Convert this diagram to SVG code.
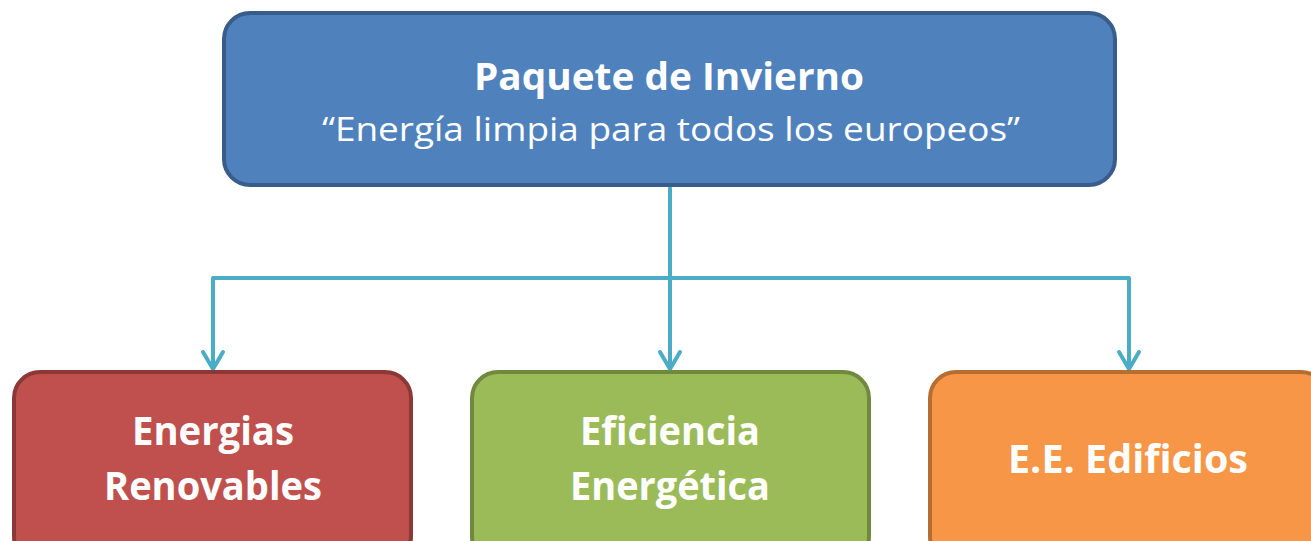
<svg xmlns="http://www.w3.org/2000/svg" width="1311" height="541" viewBox="0 0 1311 541">
<style>
.t{font-family:"Open Sans","Liberation Sans",sans-serif;fill:#fff;text-anchor:middle}
.b{font-weight:bold}
.c{fill:none;stroke:#4bacc6;stroke-width:4;stroke-linejoin:round;stroke-linecap:round}
</style>
<rect width="1311" height="541" fill="#fff"/>
<g id="connectors">
<line class="c" x1="670" y1="188" x2="670" y2="368"/>
<polyline class="c" points="213,368 213,278 1129,278 1129,368"/>
<path class="c" d="M203,352 L213,369 L223,352"/>
<path class="c" d="M660,352 L670,369 L680,352"/>
<path class="c" d="M1119,352 L1129,369 L1139,352"/>
</g>
<g id="top">
<rect x="224" y="13" width="891" height="172" rx="26" fill="#4f81bd" stroke="#385d8a" stroke-width="4"/>
<text class="t b" x="669" y="90" font-size="37" textLength="390" lengthAdjust="spacingAndGlyphs">Paquete de Invierno</text>
<text class="t" x="671" y="141" font-size="33" textLength="698" lengthAdjust="spacingAndGlyphs">“Energía limpia para todos los europeos”</text>
</g>
<g id="renovables">
<rect x="14" y="372" width="397" height="190" rx="26" fill="#c0504d" stroke="#8c3836" stroke-width="4"/>
<text class="t b" x="213" y="445" font-size="39" textLength="162" lengthAdjust="spacingAndGlyphs">Energias</text>
<text class="t b" x="213" y="500" font-size="39" textLength="218" lengthAdjust="spacingAndGlyphs">Renovables</text>
</g>
<g id="eficiencia">
<rect x="472" y="372" width="397" height="190" rx="26" fill="#9bbb59" stroke="#71893f" stroke-width="4"/>
<text class="t b" x="670" y="445" font-size="39" textLength="180" lengthAdjust="spacingAndGlyphs">Eficiencia</text>
<text class="t b" x="670" y="500" font-size="39" textLength="200" lengthAdjust="spacingAndGlyphs">Energética</text>
</g>
<g id="edificios">
<rect x="930" y="372" width="397" height="190" rx="26" fill="#f79646" stroke="#b66d31" stroke-width="4"/>
<text class="t b" x="1128" y="473" font-size="39" textLength="240" lengthAdjust="spacingAndGlyphs">E.E. Edificios</text>
</g>
</svg>
